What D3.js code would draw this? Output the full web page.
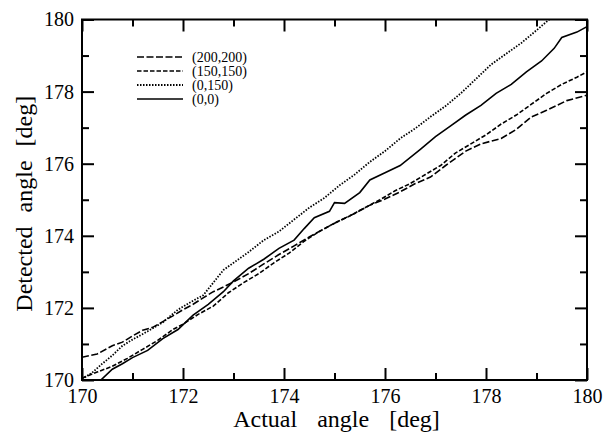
<!DOCTYPE html>
<html lang="en">
<head>
<meta charset="UTF-8">
<script src="https://cdn.jsdelivr.net/npm/d3@7"></script>
<title>Detected vs actual angle</title>
<style>
    body { margin: 0; background: white; }
    text { font-family: 'Liberation Serif', 'Times New Roman', serif; fill: black; }
    .domain { display: none; }
    .tick line { stroke: black; stroke-width: 2px; }
</style>
</head>
<body>
<div id="chart"></div>
<script>
    // (200,200)
    const actual200 = [170.0, 170.3, 170.6, 170.8, 171.0, 171.2, 171.4, 171.6, 171.8, 172.0, 172.2, 172.4, 172.6, 172.8, 173.0, 173.3, 173.6, 173.9, 174.2, 174.5, 174.8, 175.1, 175.4, 175.7, 176.0, 176.3, 176.6, 176.9, 177.2, 177.6, 177.9, 178.3, 178.6, 178.9, 179.2, 179.6, 180.0];
    const detected200 = [170.63, 170.72, 170.95, 171.05, 171.22, 171.38, 171.46, 171.62, 171.78, 171.95, 172.1, 172.28, 172.45, 172.58, 172.72, 172.95, 173.22, 173.48, 173.72, 173.97, 174.2, 174.42, 174.62, 174.85, 175.02, 175.22, 175.45, 175.63, 175.95, 176.35, 176.55, 176.7, 176.95, 177.3, 177.48, 177.75, 177.9];

    // (150,150)
    const actual150 = [170.0, 170.3, 170.6, 170.9, 171.2, 171.5, 171.8, 172.0, 172.3, 172.6, 172.9, 173.2, 173.5, 173.8, 174.1, 174.4, 174.7, 175.0, 175.3, 175.6, 175.9, 176.2, 176.5, 176.8, 177.1, 177.4, 177.7, 178.0, 178.3, 178.6, 178.9, 179.2, 179.5, 179.8, 180.0];
    const detected150 = [170.05, 170.22, 170.38, 170.6, 170.85, 171.1, 171.4, 171.55, 171.82, 172.05, 172.42, 172.7, 172.95, 173.25, 173.52, 173.85, 174.12, 174.35, 174.55, 174.78, 175.0, 175.25, 175.45, 175.7, 175.95, 176.3, 176.55, 176.8, 177.1, 177.35, 177.65, 177.95, 178.2, 178.4, 178.55];

    // (0,150)
    const actual0150 = [170.0, 170.2, 170.4, 170.6, 170.8, 171.0, 171.3, 171.6, 171.9, 172.2, 172.4, 172.6, 172.8, 173.0, 173.3, 173.6, 173.9, 174.2, 174.5, 174.8, 175.1, 175.4, 175.7, 176.0, 176.3, 176.6, 176.9, 177.2, 177.5, 177.8, 178.1, 178.4, 178.7, 179.0, 179.25, 179.5];
    const detected0150 = [170.03, 170.2, 170.45, 170.68, 170.95, 171.12, 171.35, 171.6, 171.95, 172.2, 172.35, 172.7, 173.05, 173.25, 173.55, 173.88, 174.12, 174.45, 174.78, 175.05, 175.4, 175.7, 176.05, 176.35, 176.7, 176.98, 177.3, 177.6, 177.95, 178.35, 178.75, 179.05, 179.35, 179.7, 180.0, 180.25];

    // (0,0)
    const actual00 = [170.3, 170.6, 170.8, 171.0, 171.3, 171.6, 171.9, 172.2, 172.5, 172.8, 173.0, 173.3, 173.6, 173.9, 174.2, 174.4, 174.6, 174.9, 175.0, 175.2, 175.5, 175.7, 176.0, 176.3, 176.7, 177.0, 177.3, 177.6, 177.9, 178.2, 178.5, 178.8, 179.1, 179.35, 179.5, 179.8, 180.0];
    const detected00 = [169.9, 170.3, 170.45, 170.62, 170.82, 171.15, 171.4, 171.8, 172.1, 172.45, 172.75, 173.1, 173.35, 173.65, 173.88, 174.2, 174.5, 174.68, 174.92, 174.9, 175.2, 175.55, 175.75, 175.95, 176.4, 176.75, 177.05, 177.35, 177.62, 177.95, 178.2, 178.55, 178.85, 179.2, 179.5, 179.65, 179.8];

    const seriesNames = ["(200,200)", "(150,150)", "(0,150)", "(0,0)"];
    const seriesDash = ["7,2.5", "4.5,2", "1.5,1.5", null];
    const majorTicks = [170, 172, 174, 176, 178, 180];
    const minorTicks = [171, 173, 175, 177, 179];

    const width = 605, height = 432;
    const plotLeft = 82, plotRight = 587, plotTop = 19.5, plotBottom = 380;

    const x = d3.scaleLinear().domain([170, 180]).range([plotLeft, plotRight]);
    const y = d3.scaleLinear().domain([170, 180]).range([plotBottom, plotTop]);

    const svg = d3.select("#chart").append("svg")
        .attr("width", width)
        .attr("height", height);

    svg.append("clipPath").attr("id", "plot-clip")
        .append("rect")
        .attr("x", plotLeft).attr("y", plotTop)
        .attr("width", plotRight - plotLeft).attr("height", plotBottom - plotTop);

    const series = [
        [actual200, detected200],
        [actual150, detected150],
        [actual0150, detected0150],
        [actual00, detected00]
    ].map((s, i) => ({
        name: seriesNames[i],
        dash: seriesDash[i],
        points: s[0].map((a, j) => [a, s[1][j]])
    }));

    const line = d3.line()
        .x(d => x(d[0]))
        .y(d => y(d[1]));

    svg.append("g")
        .attr("clip-path", "url(#plot-clip)")
        .selectAll("path")
        .data(series)
        .enter()
        .append("path")
        .attr("fill", "none")
        .attr("stroke", "black")
        .attr("stroke-width", d => d.name === "(0,150)" ? 1.8 : 1.6)
        .attr("stroke-dasharray", d => d.dash)
        .attr("d", d => line(d.points));

    // axes: major ticks with labels on bottom/left, ticks mirrored on top/right
    function styleAxis(g) {
        g.attr("font-family", null).attr("font-size", null);
        g.selectAll("text").style("font-size", "20px");
    }

    svg.append("g")
        .attr("transform", `translate(0,${plotBottom})`)
        .call(d3.axisBottom(x).tickValues(majorTicks).tickSize(-12).tickPadding(9).tickFormat(d3.format("d")))
        .call(styleAxis);
    svg.append("g")
        .attr("transform", `translate(0,${plotBottom})`)
        .call(d3.axisBottom(x).tickValues(minorTicks).tickSize(-7).tickFormat(""));
    svg.append("g")
        .attr("transform", `translate(0,${plotTop})`)
        .call(d3.axisTop(x).tickValues(majorTicks).tickSize(-12).tickFormat(""));
    svg.append("g")
        .attr("transform", `translate(0,${plotTop})`)
        .call(d3.axisTop(x).tickValues(minorTicks).tickSize(-7).tickFormat(""));

    svg.append("g")
        .attr("transform", `translate(${plotLeft},0)`)
        .call(d3.axisLeft(y).tickValues(majorTicks).tickSize(-12).tickPadding(8).tickFormat(d3.format("d")))
        .call(styleAxis);
    svg.append("g")
        .attr("transform", `translate(${plotLeft},0)`)
        .call(d3.axisLeft(y).tickValues(minorTicks).tickSize(-7).tickFormat(""));
    svg.append("g")
        .attr("transform", `translate(${plotRight},0)`)
        .call(d3.axisRight(y).tickValues(majorTicks).tickSize(-12).tickFormat(""));
    svg.append("g")
        .attr("transform", `translate(${plotRight},0)`)
        .call(d3.axisRight(y).tickValues(minorTicks).tickSize(-7).tickFormat(""));

    svg.append("rect")
        .attr("x", plotLeft).attr("y", plotTop)
        .attr("width", plotRight - plotLeft).attr("height", plotBottom - plotTop)
        .attr("fill", "none")
        .attr("stroke", "black")
        .attr("stroke-width", 2);

    svg.append("text")
        .attr("x", (plotLeft + plotRight) / 2 + 2)
        .attr("y", 427)
        .attr("text-anchor", "middle")
        .style("font-size", "24px")
        .style("white-space", "pre")
        .style("word-spacing", "4px")
        .text("Actual  angle  [deg]");

    svg.append("text")
        .attr("transform", `translate(32,${(plotTop + plotBottom) / 2 + 4}) rotate(-90)`)
        .attr("text-anchor", "middle")
        .style("font-size", "24px")
        .style("white-space", "pre")
        .style("word-spacing", "1px")
        .text("Detected  angle  [deg]");

    const legend = svg.append("g").attr("class", "legend");
    const legendRows = legend.selectAll("g")
        .data(series)
        .enter()
        .append("g")
        .attr("transform", (d, i) => `translate(137,${57 + i * 14})`);

    legendRows.append("line")
        .attr("x1", 0).attr("x2", 46)
        .attr("stroke", "black")
        .attr("stroke-width", d => d.name === "(0,150)" ? 1.8 : 1.6)
        .attr("stroke-dasharray", d => d.dash);

    legendRows.append("text")
        .attr("x", 55)
        .attr("dy", "0.35em")
        .style("font-size", "14px")
        .text(d => d.name);
</script>
</body>
</html>
